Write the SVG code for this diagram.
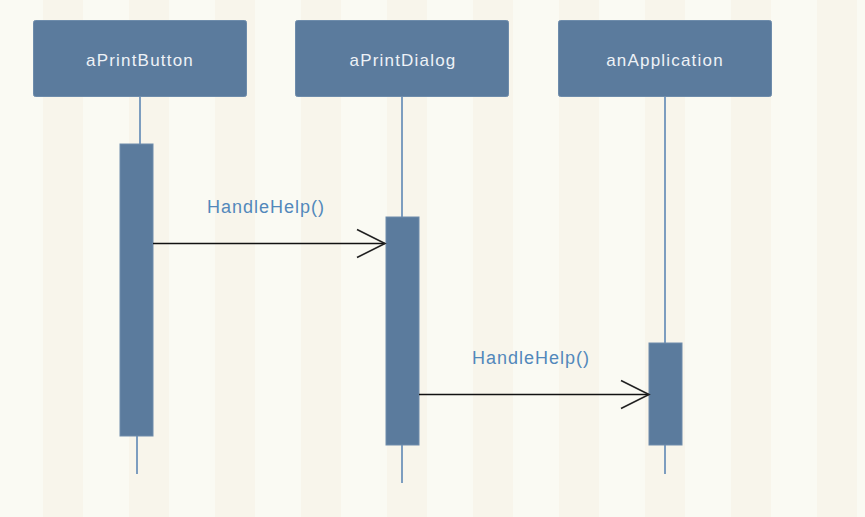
<svg xmlns="http://www.w3.org/2000/svg" width="865" height="517" viewBox="0 0 865 517">
<defs>
<pattern id="stripes" x="43" y="0" width="86" height="517" patternUnits="userSpaceOnUse">
<rect x="0" y="0" width="40" height="517" fill="#f8f5eb"/>
</pattern>
<marker id="open" markerUnits="userSpaceOnUse" markerWidth="32" markerHeight="32" viewBox="-30 -16 32 32" refX="0" refY="0" orient="auto">
<path d="M-28,-14 L0,0 L-28,14" fill="none" stroke="#222" stroke-width="1.6"/>
</marker>
</defs>
<style>
.obj{fill:#5b7b9d;stroke:#6e8cab;stroke-width:1}
.act{fill:#5b7b9d;stroke:#6e8cab;stroke-width:1}
.life{stroke:#7d9dbf;stroke-width:2;fill:none}
.name{font-family:"Liberation Sans",Arial,sans-serif;font-size:17px;fill:#eef2f7;text-anchor:middle;letter-spacing:1.2px}
.msg{font-family:"Liberation Sans",Arial,sans-serif;font-size:18px;fill:#5288bb;text-anchor:middle;letter-spacing:1px}
.call{stroke:#111;stroke-width:1.6;fill:none}
</style>
<rect width="865" height="517" fill="#fafaf3"/>
<rect width="865" height="517" fill="url(#stripes)"/>

<g id="aPrintButton">
<line class="life" x1="140" y1="97" x2="140" y2="144"/>
<line class="life" x1="137" y1="436" x2="137" y2="474"/>
<rect class="obj" x="33.5" y="20.5" width="213" height="76" rx="2"/>
<text class="name" x="140" y="66">aPrintButton</text>
<rect class="act" x="120" y="144" width="33" height="292"/>
</g>

<g id="aPrintDialog">
<line class="life" x1="402" y1="97" x2="402" y2="217"/>
<line class="life" x1="402" y1="445" x2="402" y2="483"/>
<rect class="obj" x="295.5" y="20.5" width="213" height="76" rx="2"/>
<text class="name" x="403" y="66">aPrintDialog</text>
<rect class="act" x="386" y="217" width="33" height="228"/>
</g>

<g id="anApplication">
<line class="life" x1="665" y1="97" x2="665" y2="343"/>
<line class="life" x1="665" y1="445" x2="665" y2="474"/>
<rect class="obj" x="558.5" y="20.5" width="213" height="76" rx="2"/>
<text class="name" x="665" y="66">anApplication</text>
<rect class="act" x="649" y="343" width="33" height="102"/>
</g>

<g id="connectors">
<line class="call" x1="153" y1="243.5" x2="385" y2="243.5" marker-end="url(#open)"/>
<text class="msg" x="266" y="213">HandleHelp()</text>
<line class="call" x1="419" y1="394.5" x2="649" y2="394.5" marker-end="url(#open)"/>
<text class="msg" x="531" y="364">HandleHelp()</text>
</g>
</svg>
